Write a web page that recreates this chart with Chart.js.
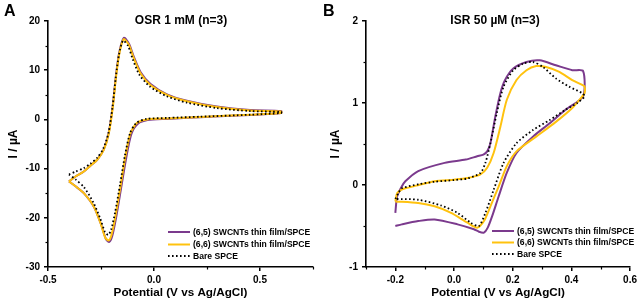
<!DOCTYPE html>
<html><head><meta charset="utf-8">
<script src="https://cdn.jsdelivr.net/npm/chart.js@4"></script>
<style>
body{margin:0;background:#fff;width:640px;height:305px;overflow:hidden}
.p{position:absolute;top:0;width:320px;height:305px}
</style></head><body>
<div class="p" style="left:0"><canvas id="ca" width="320" height="305"></canvas></div>
<div class="p" style="left:320px"><canvas id="cb" width="320" height="305"></canvas></div>
<script>
// ---------- Panel A : OSR 1 mM ----------
const osrV65 = [-0.401,-0.37,-0.331,-0.3,-0.268,-0.238,-0.214,-0.195,-0.18,-0.164,-0.142,-0.118,-0.095,-0.063,-0.016,0.061,0.155,0.296,0.453,0.6,
                0.6,0.453,0.218,0.061,-0.03,-0.076,-0.107,-0.131,-0.155,-0.179,-0.197,-0.211,-0.227,-0.25,-0.283,-0.331,-0.37,-0.401];
const osrI65 = [-12.6,-11.6,-10.6,-9.4,-8.2,-6.2,-2.8,2.6,8.7,13.6,16.6,15.4,12.7,9.6,7.2,5.1,3.8,2.6,1.9,1.7,
                1.3,0.9,0.45,0.1,-0.15,-0.9,-3.0,-7.8,-13.9,-20.0,-23.7,-24.9,-24.3,-21.3,-17.8,-15.0,-13.6,-12.6];
const osrV66 = [-0.401,-0.37,-0.331,-0.3,-0.268,-0.237,-0.213,-0.194,-0.179,-0.163,-0.143,-0.119,-0.096,-0.064,-0.017,0.061,0.155,0.296,0.453,0.6,
                0.6,0.453,0.218,0.061,-0.033,-0.08,-0.111,-0.135,-0.158,-0.182,-0.2,-0.213,-0.229,-0.252,-0.284,-0.331,-0.37,-0.401];
const osrI66 = [-12.6,-11.6,-10.6,-9.4,-8.2,-6.2,-2.8,2.6,8.7,13.5,16.3,15.2,12.5,9.4,7.0,5.0,3.7,2.5,1.8,1.6,
                1.3,0.95,0.5,0.2,0,-0.7,-2.8,-7.5,-13.6,-19.7,-23.4,-24.6,-24.1,-21.1,-17.7,-15.0,-13.6,-12.6];
const osrVbare = [-0.401,-0.37,-0.331,-0.3,-0.268,-0.24,-0.215,-0.196,-0.181,-0.165,-0.146,-0.122,-0.1,-0.068,-0.02,0.06,0.155,0.296,0.453,0.6,
                  0.6,0.453,0.218,0.061,-0.035,-0.083,-0.113,-0.137,-0.16,-0.184,-0.202,-0.216,-0.232,-0.255,-0.287,-0.33,-0.37,-0.401];
const osrIbare = [-11.2,-10.6,-9.9,-9.0,-7.8,-6.0,-2.8,2.4,8.3,13.2,16.0,14.9,12.2,9.0,6.7,4.7,3.4,2.3,1.7,1.5,
                  1.3,0.95,0.55,0.3,0.1,-0.7,-2.8,-7.3,-13.2,-19.0,-22.4,-23.5,-22.8,-20.0,-16.8,-13.8,-12.2,-11.2];
const osrXTicks = [-0.5,0,0.5];
const osrXMinor = [-0.25,0.25,0.75];
const osrYTicks = [-30,-20,-10,0,10,20];
const osrYMinor = [-25,-15,-5,5,15];

// ---------- Panel B : ISR 50 µM ----------
const isrV65 = [-0.2,-0.194,-0.18,-0.166,-0.122,-0.032,0.04,0.079,0.1,0.113,0.124,0.141,0.158,0.174,0.202,0.247,0.292,0.347,0.403,0.44,
                0.44,0.381,0.325,0.269,0.213,0.18,0.152,0.13,0.115,0.102,0.085,0.068,0.012,-0.066,-0.122,-0.178,-0.2];
const isrI65 = [-0.34,-0.14,-0.03,0.045,0.17,0.27,0.31,0.35,0.37,0.41,0.51,0.84,1.12,1.28,1.42,1.5,1.52,1.46,1.40,1.39,
                1.08,0.92,0.75,0.59,0.39,0.15,-0.14,-0.38,-0.52,-0.58,-0.57,-0.54,-0.48,-0.42,-0.44,-0.48,-0.5];
const isrV66 = [-0.2,-0.194,-0.18,-0.166,-0.12,-0.066,0.0,0.046,0.09,0.113,0.135,0.158,0.18,0.213,0.247,0.28,0.314,0.359,0.403,0.437,0.445,
                0.445,0.437,0.403,0.347,0.28,0.213,0.18,0.152,0.124,0.102,0.079,0.046,-0.01,-0.066,-0.122,-0.2];
const isrI66 = [-0.2,-0.1,-0.06,-0.04,0.0,0.045,0.065,0.085,0.13,0.21,0.39,0.71,1.04,1.28,1.4,1.45,1.44,1.38,1.28,1.22,1.2,
                1.12,1.08,0.94,0.77,0.59,0.41,0.23,-0.02,-0.26,-0.44,-0.52,-0.46,-0.34,-0.26,-0.22,-0.2];
const isrVbare = [-0.2,-0.19,-0.178,-0.12,-0.066,0.0,0.046,0.09,0.107,0.124,0.146,0.169,0.202,0.236,0.269,0.303,0.347,0.392,0.437,0.445,
                  0.42,0.381,0.325,0.269,0.213,0.169,0.135,0.107,0.085,0.057,0.012,-0.044,-0.122,-0.2];
const isrIbare = [-0.17,-0.1,-0.04,0.01,0.04,0.06,0.08,0.146,0.27,0.51,0.88,1.2,1.4,1.48,1.5,1.44,1.3,1.2,1.12,1.08,
                  1.0,0.92,0.79,0.67,0.51,0.27,-0.06,-0.34,-0.5,-0.46,-0.34,-0.25,-0.18,-0.17];
const isrXTicks = [-0.2,0,0.2,0.4,0.6];
const isrXMinor = [-0.3,-0.1,0.1,0.3,0.5];
const isrYTicks = [-1,0,1,2];
const isrYMinor = [-0.5,0.5,1.5];

const legendLabels = ['(6,5) SWCNTs thin film/SPCE','(6,6) SWCNTs thin film/SPCE','Bare SPCE'];
const PURPLE = '#7b3a8d', YELLOW = '#ffc20e';
const FONT = '"Liberation Sans", Arial, Helvetica, sans-serif';

function pts(xs, ys){ return xs.map((x,i)=>({x:x, y:ys[i]})); }

const overlay = {
  id:'overlay',
  afterDraw(chart, args, o){
    const ctx = chart.ctx, xs = chart.scales.x, ys = chart.scales.y;
    ctx.save();
    ctx.strokeStyle = '#000'; ctx.lineWidth = 1.2;
    o.minorX.forEach(v=>{ const px = Math.round(xs.getPixelForValue(v))+0.5;
      ctx.beginPath(); ctx.moveTo(px, ys.bottom); ctx.lineTo(px, ys.bottom+2.5); ctx.stroke(); });
    o.minorY.forEach(v=>{ const py = Math.round(ys.getPixelForValue(v))+0.5;
      ctx.beginPath(); ctx.moveTo(xs.left, py); ctx.lineTo(xs.left-2.5, py); ctx.stroke(); });
    ctx.fillStyle = '#000';
    ctx.textBaseline = 'middle'; ctx.textAlign = 'center';
    ctx.font = 'bold 12px ' + FONT;
    ctx.fillText(o.title, o.titleX, 21);
    ctx.textAlign = 'left';
    ctx.font = 'bold 16px ' + FONT;
    ctx.fillText(o.letter, o.letterX, 12);
    // legend
    ctx.font = 'bold ' + o.legFont + 'px ' + FONT;
    const order = [2,1,0];
    order.forEach((di,row)=>{
      const ds = chart.data.datasets[di];
      const y = o.legY[row];
      ctx.save();
      ctx.strokeStyle = ds.borderColor; ctx.lineWidth = ds.borderWidth;
      ctx.setLineDash(ds.borderDash || []);
      ctx.beginPath(); ctx.moveTo(o.legX, y); ctx.lineTo(o.legX+22, y); ctx.stroke();
      ctx.restore();
      ctx.fillStyle = '#000';
      ctx.fillText(legendLabels[row], o.legX+25, y+0.5);
    });
    ctx.restore();
  }
};

function makeChart(id, d){
  const datasets = [
    {data: pts(d.vb, d.ib), borderColor:'#000', borderWidth:1.8, borderDash:[1.6,2.4]},
    {data: pts(d.v66, d.i66), borderColor:YELLOW, borderWidth:2},
    {data: pts(d.v65, d.i65), borderColor:PURPLE, borderWidth:2}
  ];
  datasets.forEach(ds=>{ ds.showLine = true; ds.pointRadius = 0; ds.tension = 0.25; ds.fill = false; });
  const tickFont = {family: FONT, size: 10, weight: 'bold'};
  return new Chart(document.getElementById(id), {
    type:'scatter',
    data:{datasets},
    plugins:[overlay],
    options:{
      responsive:false, animation:false, events:[],
      layout:{padding:{left:0, right:d.padRight, top:21, bottom:0}},
      plugins:{legend:{display:false}, tooltip:{enabled:false},
        overlay:{minorX:d.minorX, minorY:d.minorY, title:d.title, titleX:d.titleX, letter:d.letter, letterX:d.letterX, legX:d.legX, legY:d.legY, legFont:d.legFont}},
      scales:{
        x:{type:'linear', min:d.xmin, max:d.xmax,
          afterFit(s){ s.height = 38; },
          afterBuildTicks(s){ s.ticks = d.xticks.map(v=>({value:v})); },
          grid:{display:true, drawOnChartArea:false, drawTicks:true, tickLength:4, color:'#000', lineWidth:1.5},
          border:{display:true, color:'#000', width:1.6},
          ticks:{color:'#000', font:tickFont, padding:3, maxRotation:0, autoSkip:false,
            callback:(v)=> d.xfmt(v)},
          title:{display:true, text:'Potential (V vs Ag/AgCl)', color:'#000', font:{family:FONT,size:11.7,weight:'bold'}, padding:{top:0,bottom:5}}
        },
        y:{type:'linear', min:d.ymin, max:d.ymax,
          afterFit(s){ s.width = d.yWidth; },
          afterBuildTicks(s){ s.ticks = d.yticks.map(v=>({value:v})); },
          grid:{display:true, drawOnChartArea:false, drawTicks:true, tickLength:4, color:'#000', lineWidth:1.5},
          border:{display:true, color:'#000', width:1.6},
          ticks:{color:'#000', font:tickFont, padding:4, autoSkip:false, callback:(v)=>String(v)},
          title:{display:true, text:'I / \u00b5A', color:'#000', font:{family:FONT,size:12,weight:'bold'}, padding:{top:d.yTitlePad,bottom:0}}
        }
      }
    }
  });
}

makeChart('ca', {
  v65:osrV65, i65:osrI65, v66:osrV66, i66:osrI66, vb:osrVbare, ib:osrIbare,
  xmin:-0.5, xmax:0.75, ymin:-30, ymax:20, xticks:osrXTicks, yticks:osrYTicks, minorX:osrXMinor, minorY:osrYMinor,
  xfmt:(v)=>v.toFixed(1), yWidth:48, padRight:7, yTitlePad:6,
  title:'OSR 1 mM (n=3)', titleX:181, letter:'A', letterX:4, legX:168, legY:[232,244.5,256], legFont:8.6
});
makeChart('cb', {
  v65:isrV65, i65:isrI65, v66:isrV66, i66:isrI66, vb:isrVbare, ib:isrIbare,
  xmin:-0.3, xmax:0.6, ymin:-1, ymax:2, xticks:isrXTicks, yticks:isrYTicks, minorX:isrXMinor, minorY:isrYMinor,
  xfmt:(v)=>v.toFixed(1), yWidth:46, padRight:8, yTitlePad:8,
  title:'ISR 50 \u00b5M (n=3)', titleX:175, letter:'B', letterX:3, legX:172, legY:[231,242.5,254], legFont:8.6
});
</script>
</body></html>
